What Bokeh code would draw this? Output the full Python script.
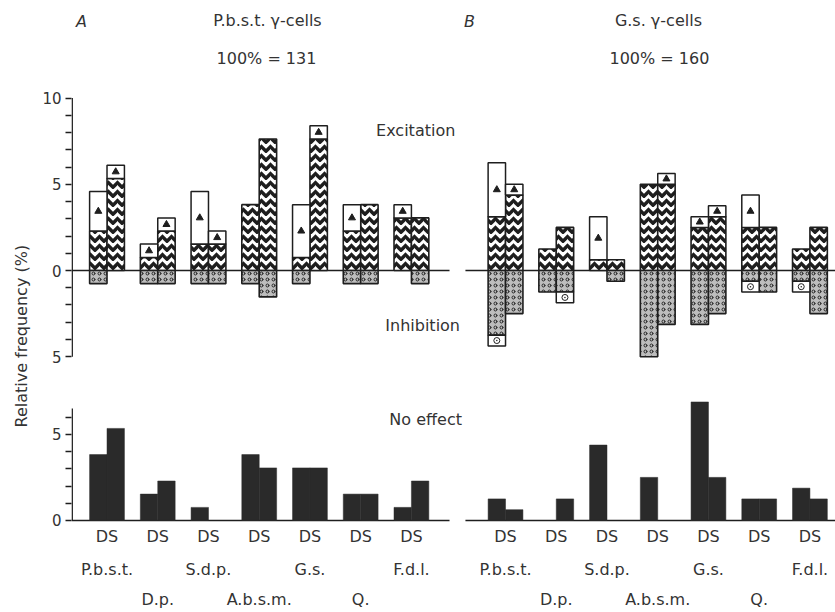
from bokeh.plotting import figure
from bokeh.models import ColumnDataSource, Range1d, FixedTicker, Title
from bokeh.core.properties import value
from bokeh.embed import file_html
from bokeh.resources import INLINE

# ---------------- data (relative frequency, %) ----------------
MUSCLES = ["P.b.s.t.", "D.p.", "S.d.p.", "A.b.s.m.", "G.s.", "Q.", "F.d.l."]
LABEL_ROW = [0, 1, 0, 1, 0, 1, 0]
BAR_LABELS = ["D", "S"]

PANEL_TITLES = {"A": "P.b.s.t. \u03b3-cells", "B": "G.s. \u03b3-cells"}
PANEL_N = {"A": 131, "B": 160}

# Panel A  (P.b.s.t. gamma-cells, 100% = 131)
A_exc_hatched_D = [2.29, 0.76, 1.53, 3.82, 0.76, 2.29, 3.05]
A_exc_total_D   = [4.58, 1.53, 4.58, 3.82, 3.82, 3.82, 3.82]
A_exc_hatched_S = [5.34, 2.29, 1.53, 7.63, 7.63, 3.82, 3.05]
A_exc_total_S   = [6.11, 3.05, 2.29, 7.63, 8.40, 3.82, 3.05]
A_inh_hatched_D = [0.76, 0.76, 0.76, 0.76, 0.76, 0.76, 0.00]
A_inh_total_D   = [0.76, 0.76, 0.76, 0.76, 0.76, 0.76, 0.00]
A_inh_hatched_S = [0.00, 0.76, 0.76, 1.53, 0.00, 0.76, 0.76]
A_inh_total_S   = [0.00, 0.76, 0.76, 1.53, 0.00, 0.76, 0.76]
A_none_D        = [3.82, 1.53, 0.76, 3.82, 3.05, 1.53, 0.76]
A_none_S        = [5.34, 2.29, 0.00, 3.05, 3.05, 1.53, 2.29]

# Panel B  (G.s. gamma-cells, 100% = 160)
B_exc_hatched_D = [3.125, 1.25, 0.625, 5.0, 2.5, 2.5, 1.25]
B_exc_total_D   = [6.25, 1.25, 3.125, 5.0, 3.125, 4.375, 1.25]
B_exc_hatched_S = [4.375, 2.5, 0.625, 5.0, 3.125, 2.5, 2.5]
B_exc_total_S   = [5.0, 2.5, 0.625, 5.625, 3.75, 2.5, 2.5]
B_inh_hatched_D = [3.75, 1.25, 0.0, 5.0, 3.125, 0.625, 0.625]
B_inh_total_D   = [4.375, 1.25, 0.0, 5.0, 3.125, 1.25, 1.25]
B_inh_hatched_S = [2.5, 1.25, 0.625, 3.125, 2.5, 1.25, 2.5]
B_inh_total_S   = [2.5, 1.875, 0.625, 3.125, 2.5, 1.25, 2.5]
B_none_D        = [1.25, 0.0, 4.375, 2.5, 6.875, 1.25, 1.875]
B_none_S        = [0.625, 1.25, 0.0, 0.0, 2.5, 1.25, 1.25]

TOP_TICKS = list(range(-5, 11))
TOP_LABELS = {10: "10", 5: "5", 0: "0", -5: "5"}
NE_TICKS = list(range(0, 7))
NE_LABELS = {0: "0", 5: "5"}
NE_AXIS_TOP = 6.5

PANELS = {
    "A": dict(eh=(A_exc_hatched_D, A_exc_hatched_S), et=(A_exc_total_D, A_exc_total_S),
              ih=(A_inh_hatched_D, A_inh_hatched_S), it=(A_inh_total_D, A_inh_total_S),
              ne=(A_none_D, A_none_S)),
    "B": dict(eh=(B_exc_hatched_D, B_exc_hatched_S), et=(B_exc_total_D, B_exc_total_S),
              ih=(B_inh_hatched_D, B_inh_hatched_S), it=(B_inh_total_D, B_inh_total_S),
              ne=(B_none_D, B_none_S)),
}

# ---------------- layout constants ----------------
W, H = 835, 612
X0, X1 = 67, 835
BAR_W = 17.5
GROUP_STEP = 51.0
GROUP0 = {"A": 102.7, "B": 503.3}
PANEL_SPAN = {"A": (67, 447), "B": (463, 840)}
PXU = 17.24                      # pixels per % unit
ZERO_PX = 270                    # pixel row of the zero line
Y_TOP = ZERO_PX / PXU
Y_BOT = Y_TOP - H / PXU
NE_OFF = -14.5                   # data offset of the "No effect" baseline

def ry(px):
    return (ZERO_PX - px) / PXU

FONT = value("DejaVu Sans")
TXT = "#333333"
INK = "#1e1e1e"

# ---------------- build geometry from data ----------------
hat = dict(left=[], right=[], top=[], bottom=[])
inh = dict(left=[], right=[], top=[], bottom=[])
box = dict(left=[], right=[], top=[], bottom=[])
none = dict(left=[], right=[], top=[], bottom=[])
tri = dict(x=[], y=[])
circ = dict(x=[], y=[])

def add(d, cx, b, t):
    d["left"].append(cx - BAR_W / 2)
    d["right"].append(cx + BAR_W / 2)
    d["bottom"].append(b)
    d["top"].append(t)

for pk, pd in PANELS.items():
    for j in range(2):
        for i in range(len(MUSCLES)):
            cx = GROUP0[pk] + i * GROUP_STEP + (j - 0.5) * BAR_W
            eh, et = pd["eh"][j][i], pd["et"][j][i]
            ih, it = pd["ih"][j][i], pd["it"][j][i]
            ne = pd["ne"][j][i]
            if eh > 0:
                add(hat, cx, 0, eh)
            if et > eh:
                add(box, cx, eh, et)
                tri["x"].append(cx); tri["y"].append((eh + et) / 2)
            if ih > 0:
                add(inh, cx, -ih, 0)
            if it > ih:
                add(box, cx, -it, -ih)
                circ["x"].append(cx); circ["y"].append(-(ih + it) / 2)
            if ne > 0:
                add(none, cx, NE_OFF, NE_OFF + ne)

p = figure(width=W, height=H, x_range=Range1d(X0, X1), y_range=Range1d(Y_BOT, Y_TOP),
           output_backend="svg", toolbar_location=None, title=None,
           x_axis_location=None, min_border_left=X0, min_border_right=0,
           min_border_top=0, min_border_bottom=0, outline_line_color=None,
           background_fill_color="white", border_fill_color="white")
p.grid.grid_line_color = None

# zero lines
for pk, (xa, xb) in PANEL_SPAN.items():
    p.segment(x0=[xa, xa], x1=[xb, xb], y0=[0, NE_OFF], y1=[0, NE_OFF],
              line_color=INK, line_width=1.5)

# y axis lines (bounds of each panel)
p.segment(x0=[X0 + 0.7, X0 + 0.7], x1=[X0 + 0.7, X0 + 0.7],
          y0=[TOP_TICKS[0], NE_OFF], y1=[TOP_TICKS[-1], NE_OFF + NE_AXIS_TOP],
          line_color=INK, line_width=1.5)

p.quad(source=ColumnDataSource(none), left="left", right="right", top="top", bottom="bottom",
       fill_color="#2a2a2a", line_color="#2a2a2a", line_width=0.5)
p.quad(source=ColumnDataSource(hat), left="left", right="right", top="top", bottom="bottom",
       fill_color="white", hatch_pattern="horizontal_wave", hatch_color=INK,
       hatch_scale=9, hatch_weight=3.4, line_color=INK, line_width=1.6)
p.quad(source=ColumnDataSource(inh), left="left", right="right", top="top", bottom="bottom",
       fill_color="#bdbdbd", hatch_pattern="ring", hatch_color="#222222",
       hatch_scale=6, hatch_weight=1.0, line_color=INK, line_width=1.6)
p.quad(source=ColumnDataSource(box), left="left", right="right", top="top", bottom="bottom",
       fill_color="white", line_color=INK, line_width=1.5)
p.scatter(source=ColumnDataSource(tri), x="x", y="y", marker="triangle", size=7,
          fill_color=INK, line_color=INK)
p.scatter(source=ColumnDataSource(circ), x="x", y="y", marker="circle_dot", size=6,
          fill_color="white", line_color=INK, line_width=1)

# y axis
ticks = TOP_TICKS + [NE_OFF + t for t in NE_TICKS]
overrides = {t: "" for t in ticks}
overrides.update(TOP_LABELS)
overrides.update({NE_OFF + k: v for k, v in NE_LABELS.items()})
ax = p.yaxis[0]
ax.ticker = FixedTicker(ticks=ticks, minor_ticks=[])
ax.major_label_overrides = overrides
ax.axis_line_color = None
ax.major_tick_out = 6
ax.major_tick_in = 0
ax.major_tick_line_width = 1.5
ax.major_tick_line_color = INK
ax.minor_tick_line_color = None
ax.major_label_text_font = "DejaVu Sans"
ax.major_label_text_font_size = "15px"
ax.major_label_text_color = TXT
ax.major_label_standoff = 4

p.add_layout(Title(text="Relative frequency (%)", align="left", offset=185,
                   text_font="DejaVu Sans", text_font_size="16px",
                   text_font_style="normal", text_color=TXT, standoff=18), "left")

# texts
def txt(xs, ys, ts, style="normal", size="16px"):
    p.text(x=xs, y=ys, text=ts, text_font=FONT, text_font_size=size,
           text_font_style=style, text_align="center", text_baseline="middle",
           text_color=TXT)

txt([77, 467], [ry(21), ry(21)], ["A", "B"], style="italic")
txt([264, 657], [ry(20), ry(20)], [PANEL_TITLES["A"], PANEL_TITLES["B"]])
txt([263, 658], [ry(57.5), ry(57.5)], ["100%% = %d" % PANEL_N["A"], "100%% = %d" % PANEL_N["B"]])
txt([413, 420, 423], [ry(130), ry(325), ry(418.5)], ["Excitation", "Inhibition", "No effect"])

ds_x, ds_y, ds_t, m_x, m_y, m_t = [], [], [], [], [], []
for pk in PANELS:
    for i, m in enumerate(MUSCLES):
        c = GROUP0[pk] + i * GROUP_STEP
        ds_x.append(c); ds_y.append(ry(536)); ds_t.append("".join(BAR_LABELS))
        m_x.append(c); m_y.append(ry(569) if LABEL_ROW[i] == 0 else ry(599)); m_t.append(m)
txt(ds_x, ds_y, ds_t)
txt(m_x, m_y, m_t)

open("out.html", "w").write(file_html(p, INLINE))
